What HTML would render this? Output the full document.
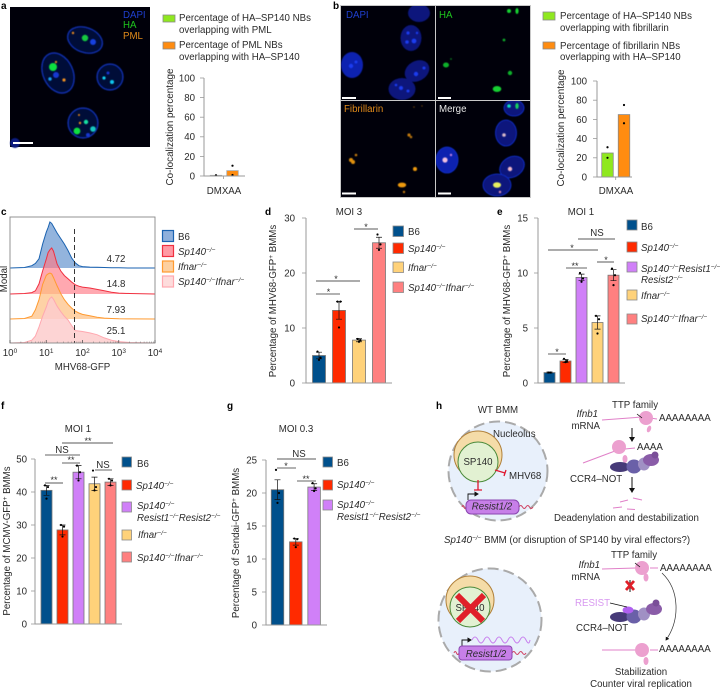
<!DOCTYPE html>
<html lang="en">
<head>
<meta charset="utf-8">
<title>Figure panels</title>
<style>
html,body{margin:0;padding:0;background:#fff;}
svg{display:block;}
text{font-family:"Liberation Sans",sans-serif;font-size:9.7px;fill:#2b2b2b;}
.let{font-weight:bold;font-size:10px;fill:#000;}
.it{font-style:italic;}
.sup{font-size:6.5px;}
.star{font-size:9px;text-anchor:middle;}
.br{stroke:#222;stroke-width:.8;fill:none;}
.brg{stroke:#666;stroke-width:1;fill:none;}
.sw{stroke:#8a8a8a;stroke-width:.8;}
.mid{text-anchor:middle;}
.end{text-anchor:end;}
.ttl{font-size:9.9px;}
</style>
</head>
<body>
<svg id="fig" xmlns="http://www.w3.org/2000/svg" width="720" height="689" viewBox="0 0 720 689">
<defs>
<filter id="b1" x="-30%" y="-30%" width="160%" height="160%"><feGaussianBlur stdDeviation="0.7"/></filter>
<filter id="b2" x="-30%" y="-30%" width="160%" height="160%"><feGaussianBlur stdDeviation="0.5"/></filter>
<clipPath id="clipDapi"><rect x="341" y="6" width="94" height="94"/></clipPath>
<clipPath id="clipMerge"><rect x="436" y="101" width="94" height="96"/></clipPath>
<marker id="arrowHead" markerWidth="6" markerHeight="6" refX="4" refY="3" orient="auto"><path d="M0,0 L5,3 L0,6 Z" fill="#111"/></marker>
</defs>
<rect width="720" height="689" fill="#fff"/>

<!-- panel letters -->
<text class="let" x="1" y="9">a</text>
<text class="let" x="333" y="9">b</text>
<text class="let" x="1" y="215">c</text>
<text class="let" x="265" y="215">d</text>
<text class="let" x="497" y="215">e</text>
<text class="let" x="1" y="409">f</text>
<text class="let" x="227" y="409">g</text>
<text class="let" x="436" y="409">h</text>

<!-- panel a micrograph -->
<g>
<rect x="10" y="7" width="140" height="140" fill="#00000a"/>
<g fill="#010838" stroke="#1232b0" stroke-width="1.2" filter="url(#b2)">
<ellipse cx="85" cy="40" rx="18" ry="12.5" transform="rotate(20 85 40)"/>
<ellipse cx="58" cy="73" rx="15" ry="21" transform="rotate(-25 58 73)"/>
<ellipse cx="110" cy="77" rx="13" ry="13"/>
<ellipse cx="83" cy="123" rx="15" ry="15"/>
</g>
<g filter="url(#b2)">
<circle cx="15" cy="143" r="5" fill="#071a80"/>
<circle cx="93" cy="42" r="3" fill="#1540e0"/><circle cx="85" cy="38" r="3.2" fill="#12c840"/><circle cx="73" cy="33" r="1.2" fill="#e88a20"/>
<circle cx="56" cy="75" r="3" fill="#1438d0"/><circle cx="53" cy="67" r="4" fill="#10e040"/><circle cx="56" cy="62" r="1.1" fill="#f09020"/><circle cx="64" cy="80" r="1.6" fill="#f09020"/><circle cx="50" cy="79" r="1.7" fill="#18a0f0"/>
<circle cx="108" cy="73" r="1.5" fill="#1438d0"/><circle cx="104" cy="78" r="1.6" fill="#10d0f0"/><circle cx="112" cy="82" r="2" fill="#10c8f0"/>
<circle cx="79" cy="115" r="1" fill="#e88a20"/><circle cx="80" cy="123" r="1.2" fill="#e88a20"/><circle cx="86" cy="122" r="2.2" fill="#14e0a0"/><circle cx="77" cy="131" r="3.4" fill="#10e040"/><circle cx="93" cy="129" r="2.8" fill="#14c8c0"/><circle cx="88" cy="135" r="2" fill="#1438d0"/>
</g>
<rect x="13" y="142" width="20" height="2" fill="#fff"/>
<text x="123" y="18" style="fill:#1f3fd0">DAPI</text>
<text x="123" y="28" style="fill:#1ec51e">HA</text>
<text x="123" y="39" style="fill:#e08a1a">PML</text>
</g>

<!-- panel a legend -->
<g>
<rect class="sw" x="163" y="15" width="12" height="7" fill="#8fe81f"/>
<text x="179" y="21">Percentage of HA–SP140 NBs</text>
<text x="179" y="33">overlapping with PML</text>
<rect class="sw" x="163" y="42" width="12" height="7" fill="#ff8c10"/>
<text x="179" y="48">Percentage of PML NBs</text>
<text x="179" y="60">overlapping with HA–SP140</text>
</g>
<text class="mid ttl" transform="translate(173 127) rotate(-90)">Co-localization percentage</text>
<text class="mid" x="224" y="194">DMXAA</text>
<line x1="223.5" y1="176" x2="223.5" y2="179" stroke="#999" stroke-width=".8"/>

<!-- panel b micrographs -->
<g>
<rect x="340" y="5" width="191" height="193" fill="#c8c8c8"/>
<rect x="341" y="6" width="94" height="94" fill="#00000a"/>
<rect x="436" y="6" width="94" height="94" fill="#00000a"/>
<rect x="341" y="101" width="94" height="96" fill="#00000a"/>
<rect x="436" y="101" width="94" height="96" fill="#00000a"/>
<g clip-path="url(#clipDapi)">
<g fill="#08167c" filter="url(#b2)">
<ellipse cx="419" cy="13" rx="11" ry="9"/>
<ellipse cx="411" cy="38" rx="10.5" ry="13"/>
<ellipse cx="352" cy="65" rx="11" ry="13" fill="#0c22b0"/>
<ellipse cx="417" cy="71" rx="13" ry="10" transform="rotate(-30 417 71)"/>
<ellipse cx="402" cy="89" rx="13.5" ry="11"/>
</g>
<g fill="#1a3cf0" filter="url(#b2)">
<circle cx="408" cy="33" r="1.6"/><circle cx="414" cy="41" r="2.4"/><circle cx="407" cy="42" r="1.8"/><circle cx="417" cy="33" r="1.2"/>
<circle cx="351" cy="66" r="2.2"/><circle cx="356" cy="62" r="1.5"/>
<circle cx="416" cy="74" r="2.2"/><circle cx="424" cy="68" r="1.5"/>
<circle cx="401" cy="88" r="2"/><circle cx="408" cy="91" r="1.5"/><circle cx="396" cy="85" r="1.3"/>
</g>
</g>
<g filter="url(#b2)">
<circle cx="509" cy="11" r="2" fill="#12d030"/><ellipse cx="517" cy="11" rx="1.6" ry="3" fill="#12d030"/>
<circle cx="504" cy="40" r="1.4" fill="#0fa82a"/><ellipse cx="446" cy="65" rx="3" ry="2.5" fill="#0fb02a"/><circle cx="451" cy="59" r=".9" fill="#0a7a20"/>
<circle cx="510" cy="73" r="2.2" fill="#0fb02a"/><ellipse cx="497" cy="89" rx="4.3" ry="3" fill="#12d030"/>
</g>
<g filter="url(#b2)">
<circle cx="409" cy="135" r="1.6" fill="#c07810"/><circle cx="411" cy="137" r="1.3" fill="#b07010"/>
<circle cx="351" cy="160" r="2" fill="#e09010"/><circle cx="353" cy="162" r="2" fill="#e09010"/><circle cx="356" cy="155" r="1.3" fill="#c07810"/>
<circle cx="415" cy="169" r="2" fill="#ee9a10"/><ellipse cx="402" cy="185" rx="4.2" ry="2.4" fill="#ee9a10"/><circle cx="404" cy="192" r="1.2" fill="#c07810"/>
<circle cx="414" cy="107" r=".8" fill="#6a4208"/><circle cx="422" cy="106" r=".7" fill="#6a4208"/>
</g>
<g clip-path="url(#clipMerge)">
<g fill="#08167c" stroke="#1030d0" stroke-width=".8" filter="url(#b2)">
<ellipse cx="514" cy="108" rx="10" ry="8"/>
<ellipse cx="506" cy="133" rx="10.5" ry="13"/>
<ellipse cx="447" cy="160" rx="11" ry="13" fill="#0c22b0"/>
<ellipse cx="512" cy="167" rx="13" ry="10" transform="rotate(-30 512 167)"/>
<ellipse cx="497" cy="185" rx="14" ry="11"/>
</g>
<g filter="url(#b2)">
<circle cx="509" cy="106" r="1.8" fill="#10e0c0"/><ellipse cx="517" cy="106" rx="1.7" ry="3" fill="#12d060"/>
<circle cx="504" cy="135" r="1.8" fill="#d8b8c8"/><circle cx="445" cy="160" r="2.6" fill="#f0c0e0"/><circle cx="451" cy="155" r="1.2" fill="#c080e0"/>
<circle cx="510" cy="169" r="2.2" fill="#f0b8c8"/><ellipse cx="497" cy="185" rx="4" ry="2.8" fill="#e8f060"/><circle cx="500" cy="192" r="1.2" fill="#e090b0"/>
</g>
</g>
<g fill="#fff">
<rect x="342" y="97" width="14" height="2"/><rect x="438" y="97" width="13" height="2"/>
<rect x="342" y="192.500" width="14" height="2"/><rect x="438" y="192.500" width="13" height="2"/>
</g>
<text x="346" y="18" style="fill:#1f3fd0">DAPI</text>
<text x="439" y="18" style="fill:#1ec51e">HA</text>
<text x="344" y="112" style="fill:#e08a1a">Fibrillarin</text>
<text x="439" y="112" style="fill:#e8e8e8">Merge</text>
</g>

<!-- panel b legend -->
<g>
<rect class="sw" x="543" y="12" width="12" height="8" fill="#8fe81f"/>
<text x="560" y="19">Percentage of HA–SP140 NBs</text>
<text x="560" y="31">overlapping with fibrillarin</text>
<rect class="sw" x="543" y="42" width="12" height="7" fill="#ff8c10"/>
<text x="560" y="49">Percentage of fibrillarin NBs</text>
<text x="560" y="60">overlapping with HA–SP140</text>
</g>
<text class="mid ttl" transform="translate(564 128) rotate(-90)">Co-localization percentage</text>
<text class="mid" x="616" y="194">DMXAA</text>
<line x1="615.700" y1="177" x2="615.700" y2="180" stroke="#999" stroke-width=".8"/>

<!-- panel c labels and legend -->
<text class="mid" transform="translate(7 279) rotate(-90)">Modal</text>
<text class="mid" x="82.500" y="370">MHV68-GFP</text>
<g>
<rect x="162.500" y="230.500" width="11" height="11" fill="#8fb0dc" stroke="#1a62b0" stroke-width="1.2"/>
<text x="178" y="240">B6</text>
<rect x="162.500" y="245.500" width="11" height="11" fill="#ff9aa4" stroke="#f03040" stroke-width="1.2"/>
<text x="178" y="255" class="it">Sp140<tspan class="sup" dy="-3">−/−</tspan></text>
<rect x="162.500" y="261" width="11" height="11" fill="#fdd0a0" stroke="#ff9a30" stroke-width="1.2"/>
<text x="178" y="270" class="it">Ifnar<tspan class="sup" dy="-3">−/−</tspan></text>
<rect x="162.500" y="276" width="11" height="11" fill="#fddcdc" stroke="#ffa8b0" stroke-width="1.2"/>
<text x="178" y="285" class="it">Sp140<tspan class="sup" dy="-3">−/−</tspan><tspan dy="3">Ifnar</tspan><tspan class="sup" dy="-3">−/−</tspan></text>
</g>

<!-- panel d text -->
<text class="mid" x="349" y="215">MOI 3</text>
<text class="mid" transform="translate(276 301) rotate(-90)">Percentage of MHV68-GFP<tspan class="sup" dy="-3">+</tspan><tspan dy="3"> BMMs</tspan></text>
<g>
<rect class="sw" x="393" y="226" width="10.500" height="10.500" fill="#00508c"/>
<text x="408" y="235">B6</text>
<rect class="sw" x="393" y="243" width="10.500" height="10.500" fill="#ff2a00"/>
<text x="408" y="252" class="it">Sp140<tspan class="sup" dy="-3">−/−</tspan></text>
<rect class="sw" x="393" y="262" width="10.500" height="10.500" fill="#ffd27a"/>
<text x="408" y="271" class="it">Ifnar<tspan class="sup" dy="-3">−/−</tspan></text>
<rect class="sw" x="393" y="282" width="10.500" height="10.500" fill="#ff8080"/>
<text x="408" y="291" class="it">Sp140<tspan class="sup" dy="-3">−/−</tspan><tspan dy="3">Ifnar</tspan><tspan class="sup" dy="-3">−/−</tspan></text>
</g>
<g>
<line class="brg" x1="316" x2="340" y1="294" y2="294"/><text class="star" x="328.500" y="295">*</text>
<line class="br" x1="316" x2="360" y1="281" y2="281"/><text class="star" x="336" y="282">*</text>
<line class="br" x1="354" x2="378" y1="229" y2="229"/><text class="star" x="366" y="230">*</text>
</g>

<!-- panel e text -->
<text class="mid" x="581" y="215">MOI 1</text>
<text class="mid" transform="translate(510 301) rotate(-90)">Percentage of MHV68-GFP<tspan class="sup" dy="-3">+</tspan><tspan dy="3"> BMMs</tspan></text>
<g>
<rect class="sw" x="627" y="220" width="10" height="10" fill="#00508c"/>
<text x="641" y="230">B6</text>
<rect class="sw" x="627" y="242" width="10" height="10" fill="#ff2a00"/>
<text x="641" y="251" class="it">Sp140<tspan class="sup" dy="-3">−/−</tspan></text>
<rect class="sw" x="627" y="262" width="10" height="10" fill="#d080f8"/>
<text x="641" y="272" class="it">Sp140<tspan class="sup" dy="-3">−/−</tspan><tspan dy="3">Resist1</tspan><tspan class="sup" dy="-3">−/−</tspan></text>
<text x="641" y="283" class="it">Resist2<tspan class="sup" dy="-3">−/−</tspan></text>
<rect class="sw" x="627" y="290" width="10" height="10" fill="#ffd27a"/>
<text x="641" y="299" class="it">Ifnar<tspan class="sup" dy="-3">−/−</tspan></text>
<rect class="sw" x="627" y="314" width="10" height="10" fill="#ff8080"/>
<text x="641" y="322" class="it">Sp140<tspan class="sup" dy="-3">−/−</tspan><tspan dy="3">Ifnar</tspan><tspan class="sup" dy="-3">−/−</tspan></text>
</g>
<g>
<line class="brg" x1="548" x2="566" y1="354" y2="354"/><text class="star" x="557" y="355">*</text>
<line class="brg" x1="566" x2="587" y1="268" y2="268"/><text class="star" x="575" y="269">**</text>
<line class="br" x1="597" x2="614" y1="262" y2="262"/><text class="star" x="606" y="263">*</text>
<line class="br" x1="548" x2="598" y1="250" y2="250"/><text class="star" x="572" y="251">*</text>
<line class="br" x1="578" x2="615" y1="239" y2="239"/><text class="mid" x="597" y="236">NS</text>
</g>

<!-- panel f text -->
<text class="mid" x="78" y="432">MOI 1</text>
<text class="mid" transform="translate(10 541) rotate(-90)">Percentage of MCMV-GFP<tspan class="sup" dy="-3">+</tspan><tspan dy="3"> BMMs</tspan></text>
<g>
<rect class="sw" x="122" y="457" width="9.500" height="10" fill="#00508c"/>
<text x="137" y="467">B6</text>
<rect class="sw" x="122" y="480" width="9.500" height="10" fill="#ff2a00"/>
<text x="136" y="489" class="it">Sp140<tspan class="sup" dy="-3">−/−</tspan></text>
<rect class="sw" x="122" y="502" width="9.500" height="10" fill="#d080f8"/>
<text x="137" y="509" class="it">Sp140<tspan class="sup" dy="-3">−/−</tspan></text>
<text x="137" y="521" class="it">Resist1<tspan class="sup" dy="-3">−/−</tspan><tspan dy="3">Resist2</tspan><tspan class="sup" dy="-3">−/−</tspan></text>
<rect class="sw" x="122" y="530" width="9.500" height="10" fill="#ffd27a"/>
<text x="138" y="538" class="it">Ifnar<tspan class="sup" dy="-3">−/−</tspan></text>
<rect class="sw" x="122" y="552" width="9.500" height="10" fill="#ff8080"/>
<text x="137" y="561" class="it">Sp140<tspan class="sup" dy="-3">−/−</tspan><tspan dy="3">Ifnar</tspan><tspan class="sup" dy="-3">−/−</tspan></text>
</g>
<g>
<line class="br" x1="62" x2="113" y1="443" y2="443"/><text class="star" x="88" y="444">**</text>
<line class="brg" x1="45" x2="80" y1="455" y2="455"/><text class="mid" x="62" y="453">NS</text>
<line class="brg" x1="62" x2="80" y1="463" y2="463"/><text class="star" x="71" y="463">**</text>
<line class="brg" x1="95" x2="112" y1="470" y2="470"/><text class="mid" x="103" y="468">NS</text>
<line class="br" x1="45" x2="63" y1="483" y2="483"/><text class="star" x="54" y="483">**</text>
</g>

<!-- panel g text -->
<text class="mid" x="296" y="432">MOI 0.3</text>
<text class="mid" transform="translate(239 543) rotate(-90)">Percentage of Sendai-GFP<tspan class="sup" dy="-3">+</tspan><tspan dy="3"> BMMs</tspan></text>
<g>
<rect class="sw" x="323" y="457" width="9.500" height="10" fill="#00508c"/>
<text x="337" y="466">B6</text>
<rect class="sw" x="323" y="480" width="9.500" height="10" fill="#ff2a00"/>
<text x="337" y="488" class="it">Sp140<tspan class="sup" dy="-3">−/−</tspan></text>
<rect class="sw" x="323" y="500" width="9.500" height="10" fill="#d080f8"/>
<text x="337" y="508" class="it">Sp140<tspan class="sup" dy="-3">−/−</tspan></text>
<text x="337" y="520" class="it">Resist1<tspan class="sup" dy="-3">−/−</tspan><tspan dy="3">Resist2</tspan><tspan class="sup" dy="-3">−/−</tspan></text>
</g>
<g>
<line class="br" x1="277" x2="316" y1="459" y2="459"/><text class="mid" x="299" y="457">NS</text>
<line class="brg" x1="277" x2="296" y1="468" y2="468"/><text class="star" x="286" y="469">*</text>
<line class="brg" x1="297" x2="316" y1="481" y2="481"/><text class="star" x="306" y="482">**</text>
</g>

<!-- panel h top -->
<g>
<text class="mid" x="498" y="413">WT BMM</text>
<circle cx="498" cy="471" r="49.500" fill="#e8f0fb" stroke="#aaa" stroke-width="2" stroke-dasharray="11 5"/>
<circle cx="478" cy="455" r="24" fill="#f5dca8" stroke="#b0803a"/>
<circle cx="478" cy="462" r="20" fill="#e2f1d2" stroke="#4a8a3a"/>
<text class="mid" x="478" y="465">SP140</text>
<text x="493" y="437">Nucleolus</text>
<path d="M495,470 L505,473 M506,470 L504,476 M478,480 V490 M474,490 H482" stroke="#e01830" stroke-width="1.3" fill="none"/>
<text x="509" y="479">MHV68</text>
<path d="M468,500 V494 H478" stroke="#111" stroke-width=".9" fill="none" marker-end="url(#arrowHead)"/>
<path d="M462,507 q1,-3 2,0 t2,0 M519,507 q1.700,-3 3.500,0 t3.500,0 t3.500,0 t3.500,0" stroke="#d04060" stroke-width="1" fill="none"/>
<rect x="466" y="500" width="53" height="14" rx="5" fill="#c77fe8" stroke="#8a45b0"/>
<text class="mid it" x="492" y="509.500">Resist1/2</text>
</g>
<g>
<text class="mid" x="635" y="408">TTP family</text>
<text class="end it" x="598" y="417">Ifnb1</text>
<text class="end" x="600" y="429">mRNA</text>
<path d="M602,420 L642,417 M650,418 L657,419 M583,463 L615,451 M625,449 L635,448" stroke="#e080c8" stroke-width="1" fill="none"/>
<circle cx="646" cy="418" r="7" fill="#eca0cf"/>
<ellipse cx="649" cy="429" rx="2" ry="3.500" fill="#eca0cf" transform="rotate(20 649 429)"/>
<line x1="637" y1="414" x2="642" y2="418" stroke="#111" stroke-width=".8"/>
<text x="659" y="421">AAAAAAAA</text>
<line x1="632" y1="428" x2="632" y2="441" stroke="#111" stroke-width="1" marker-end="url(#arrowHead)"/>
<circle cx="619" cy="447" r="7" fill="#eca0cf"/>
<ellipse cx="625" cy="459" rx="2.500" ry="4" fill="#eca0cf"/>
<text x="637" y="450">AAAA</text>
<g>
<ellipse cx="620" cy="467" rx="10" ry="5" fill="#463a78"/>
<ellipse cx="634" cy="466.500" rx="7.500" ry="7" fill="#6a60a8"/>
<ellipse cx="644" cy="464" rx="6" ry="6.500" fill="#a090c4"/>
<ellipse cx="651" cy="460" rx="8" ry="6" fill="#8a5ca8"/>
<circle cx="655" cy="455" r="3.500" fill="#7a4e98"/>
</g>
<text x="570" y="482">CCR4–NOT</text>
<line x1="632" y1="477" x2="632" y2="492" stroke="#111" stroke-width="1" marker-end="url(#arrowHead)"/>
<path d="M620,502 L628,500 M633,498 L642,500 M613,508 L622,507 M627,509 L635,509.500" stroke="#e080c8" stroke-width="1" fill="none"/>
<text x="554" y="521">Deadenylation and destabilization</text>
</g>
<text x="444" y="543"><tspan class="it">Sp140</tspan><tspan class="sup it" dy="-3">−/−</tspan><tspan dy="3"> BMM (or disruption of SP140 by viral effectors?)</tspan></text>

<!-- panel h bottom -->
<g>
<circle cx="490" cy="620" r="51.500" fill="#e8f0fb" stroke="#aaa" stroke-width="2" stroke-dasharray="11 5"/>
<circle cx="470" cy="600" r="24" fill="#f5dca8" stroke="#b0803a"/>
<circle cx="470" cy="607" r="20" fill="#e2f1d2" stroke="#4a8a3a"/>
<text class="mid" x="470" y="611">SP140</text>
<path d="M457,595 L483,621 M484,595 L458,621" stroke="#e0202a" stroke-width="6" fill="none"/>
<path d="M472,640 q3,-6 6,0 t6,0 t6,0 t6,0 t6,0 t6,0 t6,0 t6,0 t6,0 t4,0" stroke="#c880ee" stroke-width="1" fill="none"/>
<path d="M462,646 V640 H471" stroke="#111" stroke-width=".9" fill="none" marker-end="url(#arrowHead)"/>
<path d="M454,653 q1.200,-3 2.500,0 t2.500,0 M512,653 q1.700,-3 3.500,0 t3.500,0 t3.500,0 t3.500,0" stroke="#d04060" stroke-width="1" fill="none"/>
<rect x="459" y="646" width="53" height="14" rx="3" fill="#c77fe8" stroke="#8a45b0"/>
<text class="mid it" x="486" y="657">Resist1/2</text>
</g>
<g>
<text class="mid" x="634" y="558">TTP family</text>
<text class="end it" x="600" y="568">Ifnb1</text>
<text class="end" x="600" y="580">mRNA</text>
<path d="M602,569 L636,568 M650,568 L658,568 M602,650 L636,650 M650,650 L658,650" stroke="#e080c8" stroke-width="1" fill="none"/>
<circle cx="642" cy="568" r="7" fill="#eca0cf"/>
<ellipse cx="646" cy="577.500" rx="2.500" ry="4" fill="#eca0cf"/>
<line x1="635" y1="563" x2="640" y2="567" stroke="#111" stroke-width=".8"/>
<text x="660" y="571">AAAAAAAA</text>
<line x1="630" y1="580" x2="630" y2="592" stroke="#111" stroke-width="1"/>
<path d="M626,581 L634,590 M634,581 L626,590" stroke="#e0202a" stroke-width="2.800" fill="none"/>
<text x="575" y="606" style="fill:#d898f0">RESIST</text>
<g>
<ellipse cx="620" cy="617" rx="10" ry="5" fill="#463a78"/>
<ellipse cx="634" cy="616.500" rx="7.500" ry="7" fill="#6a60a8"/>
<ellipse cx="644" cy="614" rx="6" ry="6.500" fill="#a090c4"/>
<ellipse cx="654" cy="609" rx="8" ry="6" fill="#8a5ca8"/>
<circle cx="656" cy="603" r="3.500" fill="#7a4e98"/>
<ellipse cx="628" cy="610" rx="5.500" ry="3.500" fill="#b060f0"/>
</g>
<line x1="610" y1="603" x2="627" y2="607" stroke="#111" stroke-width=".8"/>
<text x="576" y="631">CCR4–NOT</text>
<path d="M662,573 C680,590 680,620 666,640" stroke="#333" stroke-width=".7" fill="none" marker-end="url(#arrowHead)"/>
<circle cx="642" cy="650" r="7" fill="#eca0cf"/>
<ellipse cx="646" cy="661" rx="2.500" ry="4" fill="#eca0cf"/>
<text x="659" y="652">AAAAAAAA</text>
<text class="mid" x="641" y="675">Stabilization</text>
<text class="mid" x="641" y="687">Counter viral replication</text>
</g>

<g id="charts"></g>
</svg>

<script>
// Panel a data
const aCategories = ['HA-SP140', 'PML'];
const aValues = [0.7, 5.5];
const aPoints = [[0.7, 0.7], [10.5, 1]];
const aTicks = [0, 20, 40, 60, 80, 100];
// Panel b data
const bCategories = ['HA-SP140', 'Fibrillarin'];
const bValues = [25, 65];
const bPoints = [[31, 20], [75, 56]];
const bTicks = [0, 20, 40, 60, 80, 100];
// Panel d data
const dCategories = ['B6', 'Sp140', 'Ifnar', 'Sp140Ifnar'];
const dValues = [5, 13.2, 7.8, 25.5];
const dErrors = [0.6, 1.6, 0.3, 1];
const dPoints = [[5.7, 4.6, 4.2], [14.8, 14.8, 10.1], [8, 7.8, 7.5], [27, 25.2, 24.2]];
const dTicks = [0, 10, 20, 30];
// Panel e data
const eCategories = ['B6', 'Sp140', 'Sp140Resist', 'Ifnar', 'Sp140Ifnar'];
const eValues = [0.95, 2, 9.6, 5.5, 9.8];
const eErrors = [0.05, 0.15, 0.3, 0.6, 0.5];
const ePoints = [[0.95, 0.95], [2.2, 2, 1.9], [10, 9.5, 9.2], [6.1, 5.8, 4.5], [10.4, 9.8, 8.9]];
const eTicks = [0, 5, 10, 15];
// Panel f data
const fCategories = ['B6', 'Sp140', 'Sp140Resist', 'Ifnar', 'Sp140Ifnar'];
const fValues = [40.5, 28.5, 46, 42.5, 43];
const fErrors = [1.5, 1.5, 2, 2, 1];
const fPoints = [[42, 41.5, 38], [30, 29.5, 26.5], [48, 46, 43.5], [46.5, 41.5, 40.5], [44, 43.5, 42]];
const fTicks = [0, 10, 20, 30, 40, 50];
// Panel g data
const gCategories = ['B6', 'Sp140', 'Sp140Resist'];
const gValues = [20.5, 12.6, 20.9];
const gErrors = [1.5, 0.5, 0.5];
const gPoints = [[23.5, 20, 18.5], [13.1, 13, 11.8], [21.5, 20.7, 20.3]];
const gTicks = [0, 5, 10, 15, 20, 25];
// Bar colours by genotype
const genotypeColors = {B6: '#00508c', Sp140: '#ff2a00', Sp140Resist: '#d080f8', Ifnar: '#ffd27a', Sp140Ifnar: '#ff8080', 'HA-SP140': '#8fe81f', PML: '#ff8c10', Fibrillarin: '#ff8c10'};
// Panel c data (log10 fluorescence vs. modal %)
const cLogX = [0, 0.4, 0.6, 0.7, 0.8, 0.9, 1.0, 1.05, 1.1, 1.15, 1.2, 1.3, 1.4, 1.5, 1.6, 1.7, 1.8, 1.9, 2.0, 2.2, 2.4, 2.6, 2.8, 3, 3.3, 4];
const cB6 = [0, 1, 5, 10, 20, 52, 78, 88, 100, 97, 90, 76, 64, 52, 38, 22, 11, 5, 3, 2, 1.5, 1, 0.7, 0.4, 0.1, 0];
const cSp140 = [0, 1, 3, 7, 22, 50, 76, 90, 96, 100, 93, 65, 50, 40, 33, 26, 20, 17, 15, 13, 10, 7, 4, 2, 1, 0];
const cIfnar = [0, 1, 6, 20, 42, 75, 95, 98, 100, 98, 90, 72, 55, 42, 32, 24, 17, 13, 10, 7, 4, 2, 1, 0.5, 0.2, 0];
const cDko = [0, 1, 6, 15, 35, 58, 78, 90, 97, 100, 95, 80, 68, 58, 50, 38, 27, 26, 25, 22, 18, 11, 6, 3, 1, 0];
const cTickExponents = [0, 1, 2, 3, 4];
const cGateLog = 1.78;
const cLabels = ['4.72', '14.8', '7.93', '25.1'];

const SVGNS = 'http://www.w3.org/2000/svg';
const root = document.getElementById('charts');

function mk(parent, tag, attrs, text) {
  const el = document.createElementNS(SVGNS, tag);
  for (const k in attrs) el.setAttribute(k, attrs[k]);
  if (text !== undefined) el.textContent = text;
  parent.appendChild(el);
  return el;
}

function drawBars(cfg) {
  const g = mk(root, 'g', {});
  
  
  const top = cfg.ticks[cfg.ticks.length - 1];
  const y = function (v) { return cfg.y0 - v * (cfg.y0 - cfg.yTop) / top; };
  const x = function (i) { return cfg.first + cfg.step * i; };

  cfg.values.forEach(function (v, i) {
    const bar = mk(g, 'rect', {x: x(i) - cfg.width / 2, y: y(v), width: cfg.width, height: cfg.y0 - y(v), fill: genotypeColors[cfg.categories[i]], stroke: cfg.barStroke, 'stroke-width': 0.8});
    
    
    if (cfg.errors) {
      const e = cfg.errors[i];
      const err = mk(g, 'path', {d: 'M' + x(i) + ',' + y(v - e) + 'V' + y(v + e) + 'M' + (x(i) - 3) + ',' + y(v - e) + 'h6M' + (x(i) - 3) + ',' + y(v + e) + 'h6', stroke: '#111', 'stroke-width': 0.7, fill: 'none'});
      
      
    }
    cfg.points[i].forEach(function (p, j) {
      const off = cfg.points[i].length === 3 ? [-1.5, 1.5, 0][j] : (j === 0 ? (cfg.errors ? -1 : 0) : (cfg.errors ? 1 : 0));
      const dot = mk(g, 'circle', {cx: x(i) + off, cy: y(p), r: 1.1, fill: '#000'});
      
      
    });
  });

  const axis = mk(g, 'path', {d: 'M' + cfg.axisX + ',' + cfg.yTop + 'V' + cfg.y0 + 'H' + cfg.axisEnd, stroke: '#999', 'stroke-width': 1, fill: 'none'});
  
  
  cfg.ticks.forEach(function (t) {
    const tick = mk(g, 'line', {x1: cfg.axisX - 4, x2: cfg.axisX, y1: y(t), y2: y(t), stroke: '#999', 'stroke-width': 0.8});
    
    
    const label = mk(g, 'text', {x: cfg.labelX, y: y(t) + 3.4, 'text-anchor': 'end'}, String(t));
    
    
  });
}

drawBars({id: 'a', categories: aCategories, values: aValues, points: aPoints, ticks: aTicks, y0: 176, yTop: 78, axisX: 204, axisEnd: 245, labelX: 195, first: 216, step: 16.5, width: 11.5, barStroke: '#aaa'});
drawBars({id: 'b', categories: bCategories, values: bValues, points: bPoints, ticks: bTicks, y0: 177, yTop: 81, axisX: 597, axisEnd: 632, labelX: 587, first: 607.5, step: 16.5, width: 11.5, barStroke: '#888'});
drawBars({id: 'd', categories: dCategories, values: dValues, errors: dErrors, points: dPoints, ticks: dTicks, y0: 383, yTop: 218, axisX: 306, axisEnd: 392, labelX: 295, first: 319, step: 20, width: 13, barStroke: '#777'});
drawBars({id: 'e', categories: eCategories, values: eValues, errors: eErrors, points: ePoints, ticks: eTicks, y0: 383, yTop: 218, axisX: 538, axisEnd: 625, labelX: 528, first: 549.5, step: 16, width: 11, barStroke: '#777'});
drawBars({id: 'f', categories: fCategories, values: fValues, errors: fErrors, points: fPoints, ticks: fTicks, y0: 624, yTop: 459, axisX: 35, axisEnd: 122, labelX: 27, first: 46.5, step: 16, width: 11, barStroke: '#777'});
drawBars({id: 'g', categories: gCategories, values: gValues, errors: gErrors, points: gPoints, ticks: gTicks, y0: 625, yTop: 460, axisX: 266, axisEnd: 327, labelX: 257, first: 277.5, step: 18.3, width: 12.5, barStroke: '#777'});

// Panel c flow histograms
(function () {
  const g = mk(root, 'g', {});
  
  
  const xs = function (l) { return 10 + l * 36.25; };
  const tracks = [
    {name: 'b6', vals: cB6, base: 268, fill: '#6f9bd1', line: '#1a62b0', op: 0.75, labelY: 262},
    {name: 'sp140', vals: cSp140, base: 294, fill: '#ff7a86', line: '#f03040', op: 0.65, labelY: 287},
    {name: 'ifnar', vals: cIfnar, base: 319, fill: '#fdbf80', line: '#ff9a30', op: 0.7, labelY: 313},
    {name: 'dko', vals: cDko, base: 343, fill: '#fdcccc', line: '#ffa8b0', op: 0.85, labelY: 334}
  ];
  tracks.forEach(function (t, idx) {
    const ys = function (v) { return t.base - v * 0.46; };
    let d = '';
    cLogX.forEach(function (lx, i) { d += (i ? 'L' : 'M') + xs(lx).toFixed(1) + ',' + ys(t.vals[i]).toFixed(1); });
    const area = mk(g, 'path', {d: d + 'L' + xs(4) + ',' + t.base + 'L' + xs(0) + ',' + t.base + 'Z', fill: t.fill, 'fill-opacity': t.op});
    
    
    const line = mk(g, 'path', {d: d, fill: 'none', stroke: t.line, 'stroke-width': 1});
    
    
    const lab = mk(g, 'text', {x: 116, y: t.labelY, 'text-anchor': 'middle'}, cLabels[idx]);
    
    
  });
  const frame = mk(g, 'rect', {x: 10, y: 217, width: 145, height: 126, fill: 'none', stroke: '#888', 'stroke-width': 0.9});
  
  
  const gate = mk(g, 'line', {x1: xs(cGateLog), x2: xs(cGateLog), y1: 229, y2: 343, stroke: '#222', 'stroke-width': 0.9, 'stroke-dasharray': '5 3'});
  
  
  cTickExponents.forEach(function (e) {
    const tick = mk(g, 'line', {x1: xs(e), x2: xs(e), y1: 343, y2: 340, stroke: '#555', 'stroke-width': 0.8});
    
    
    if (e < 4) {
      for (let m = 2; m < 10; m++) {
        const minor = mk(g, 'line', {x1: xs(e + Math.log10(m)), x2: xs(e + Math.log10(m)), y1: 343, y2: 341.5, stroke: '#777', 'stroke-width': 0.5});
        
        
      }
    }
    const lab = mk(g, 'text', {x: xs(e), y: 356, 'text-anchor': 'middle'}, '10');
    
    
    mk(lab, 'tspan', {dy: -3, 'font-size': 6.5, style: 'font-size:6.5px'}, String(e));
  });
})();
</script>
</body>
</html>
